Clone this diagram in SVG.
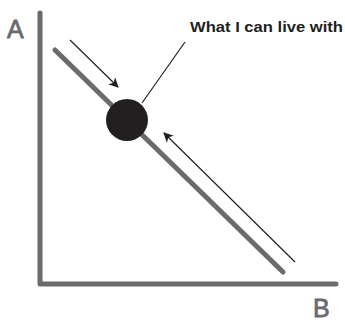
<svg xmlns="http://www.w3.org/2000/svg" width="345" height="323" viewBox="0 0 345 323">
<style>
.axis{stroke:#6b6b6d;stroke-width:5;fill:none;stroke-linecap:round;stroke-linejoin:round}
.thin{stroke:#231f20;stroke-width:1.2;fill:none}
.lbl{font-family:"Comic Sans MS","Liberation Sans",sans-serif;fill:#6b6b6d;stroke:#6b6b6d;stroke-width:0.8;font-size:25px}
.note{font-family:"Liberation Sans",sans-serif;font-weight:bold;fill:#231f20;font-size:14px}
</style>
<defs>
<marker id="ah" viewBox="0 0 10 10" refX="9" refY="5" markerWidth="10" markerHeight="10" markerUnits="userSpaceOnUse" orient="auto">
<path d="M0,0 L10,5 L0,10 L3,5 Z" fill="#231f20"/>
</marker>
</defs>
<g id="axes">
<path class="axis" d="M40,13 L40,284 L336,284"/>
</g>
<g id="axis-labels">
<text class="lbl" x="7" y="38">A</text>
<text class="lbl" x="313" y="317">B</text>
</g>
<g id="line">
<line class="axis" x1="55" y1="50" x2="283" y2="272"/>
</g>
<g id="connectors">
<line class="thin" x1="70" y1="40" x2="118" y2="87" marker-end="url(#ah)"/>
<line class="thin" x1="295" y1="262" x2="164" y2="133" marker-end="url(#ah)"/>
<line class="thin" x1="142" y1="103" x2="185" y2="42"/>
</g>
<g id="point">
<circle cx="127" cy="120" r="21" fill="#231f20"/>
</g>
<g id="note">
<text class="note" x="190" y="32" textLength="153" lengthAdjust="spacingAndGlyphs">What I can live with</text>
</g>
</svg>
